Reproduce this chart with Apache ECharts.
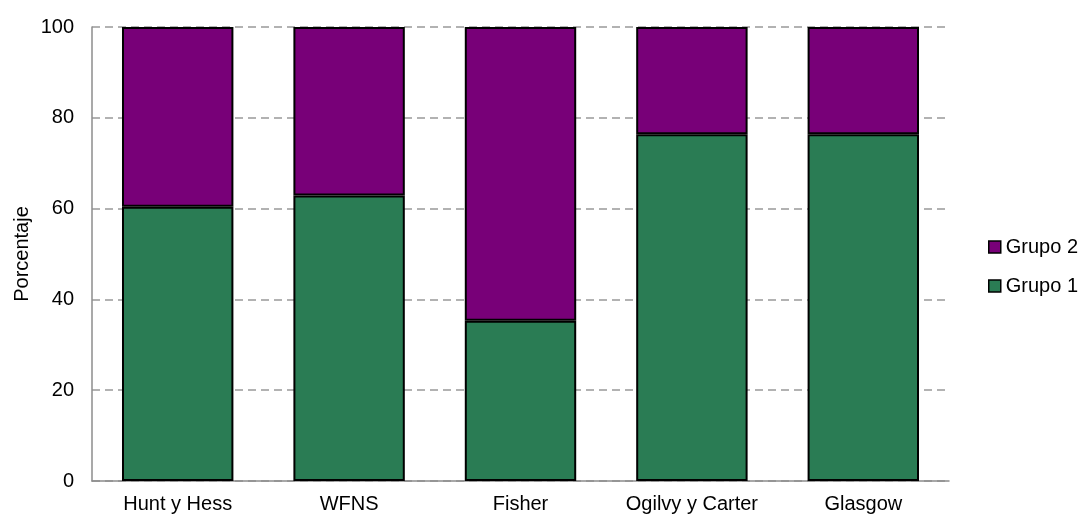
<!DOCTYPE html>
<html>
<head>
<meta charset="utf-8">
<script src="https://cdn.jsdelivr.net/npm/echarts@6/dist/echarts.min.js"></script>
<style>
  html, body { margin: 0; padding: 0; background: #fff; }
  #chart { width: 1085px; height: 516px; }
</style>
</head>
<body>
<div id="chart"></div>
<script>
// Scales
const categories = ['Hunt y Hess', 'WFNS', 'Fisher', 'Ogilvy y Carter', 'Glasgow'];
const grupo1 = [60.4, 62.9, 35.3, 76.4, 76.4];
const grupo2 = [39.6, 37.1, 64.7, 23.6, 23.6];
const yTicks = [0, 20, 40, 60, 80, 100];

const FONT = '"Liberation Sans", Arial, sans-serif';
const GREEN = '#2a7c54';
const PURPLE = '#780078';

const chart = echarts.init(document.getElementById('chart'), null, { renderer: 'canvas' });

chart.setOption({
  animation: false,
  backgroundColor: '#ffffff',
  grid: { left: 92, right: 136, top: 27, bottom: 35, containLabel: false },
  legend: {
    orient: 'vertical',
    left: 988,
    top: 237,
    padding: 0,
    itemWidth: 12,
    itemHeight: 12,
    itemGap: 19,
    icon: 'rect',
    data: ['Grupo 2', 'Grupo 1'],
    textStyle: { fontFamily: FONT, fontSize: 20, color: '#000' },
    itemStyle: { borderColor: '#000', borderWidth: 1.5 }
  },
  xAxis: {
    type: 'category',
    data: categories,
    axisLine: { show: true, lineStyle: { color: '#8c8c8c', width: 1.5 } },
    axisTick: { show: false },
    axisLabel: { fontFamily: FONT, fontSize: 20, color: '#000', margin: 13, interval: 0 }
  },
  yAxis: {
    type: 'value',
    min: yTicks[0],
    max: yTicks[yTicks.length - 1],
    interval: yTicks[1] - yTicks[0],
    name: 'Porcentaje',
    nameLocation: 'middle',
    nameGap: 60,
    nameMoveOverlap: false,
    nameRotate: 90,
    nameTextStyle: { fontFamily: FONT, fontSize: 20, color: '#000' },
    axisLine: { show: true, lineStyle: { color: '#8c8c8c', width: 1.5 } },
    axisTick: { show: false },
    axisLabel: { fontFamily: FONT, fontSize: 20, color: '#000', margin: 18 },
    splitLine: { show: true, lineStyle: { color: '#999999', width: 1.5, type: [8, 5] } }
  },
  series: [
    {
      name: 'Grupo 1',
      type: 'bar',
      stack: 'total',
      data: grupo1,
      barCategoryGap: '35%',
      itemStyle: { color: GREEN, borderColor: '#000', borderWidth: 2 }
    },
    {
      name: 'Grupo 2',
      type: 'bar',
      stack: 'total',
      data: grupo2,
      barCategoryGap: '35%',
      itemStyle: { color: PURPLE, borderColor: '#000', borderWidth: 2 }
    }
  ]
});
</script>
</body>
</html>
